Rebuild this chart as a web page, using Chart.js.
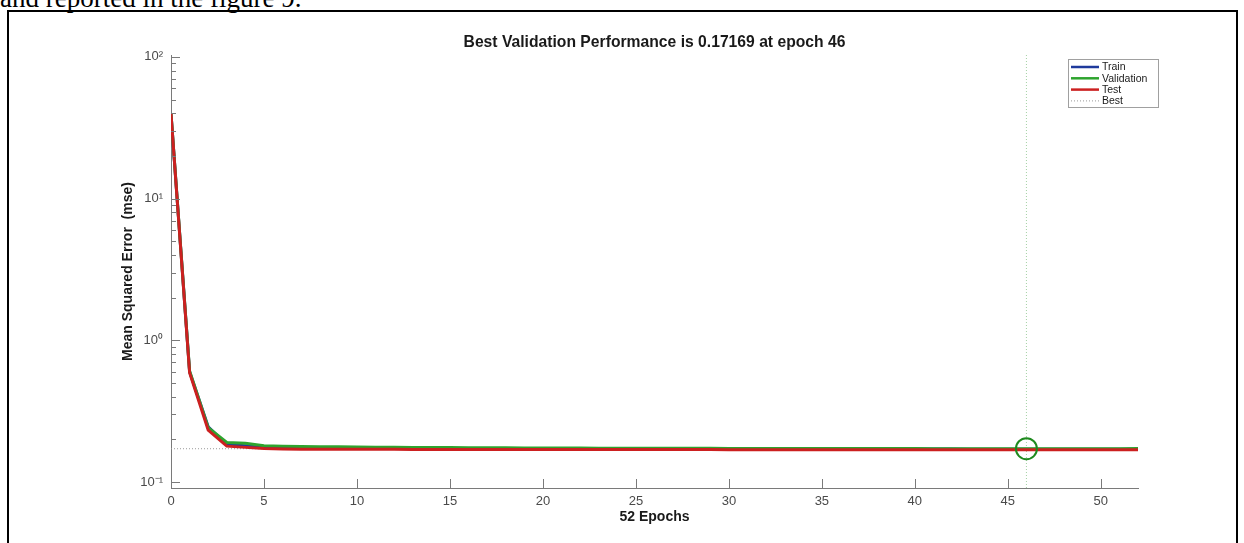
<!DOCTYPE html>
<html><head><meta charset="utf-8">
<script src="https://cdn.jsdelivr.net/npm/chart.js@4/dist/chart.umd.min.js"></script>
<style>
html,body{margin:0;padding:0;background:#fff;width:1244px;height:543px;overflow:hidden;position:relative}
#para{position:absolute;left:0;top:-17px;font-family:"Liberation Serif","Times New Roman",serif;font-size:27px;line-height:30px;color:#000;white-space:nowrap}
#frame{position:absolute;left:7px;top:10px;width:1231px;height:620px;border:2px solid #000;box-sizing:border-box}
#c{position:absolute;left:0;top:0}
</style></head><body>
<div id="para">and reported in the figure 9.</div>
<div id="frame"></div>
<canvas id="c" width="1244" height="543"></canvas>
<script>
const TITLE = 'Best Validation Performance is 0.17169 at epoch 46';
const X_TITLE = '52 Epochs';
const Y_TITLE = 'Mean Squared Error  (mse)';
const EPOCHS = [0,1,2,3,4,5,6,7,8,9,10,11,12,13,14,15,16,17,18,19,20,21,22,23,24,25,26,27,28,29,30,31,32,33,34,35,36,37,38,39,40,41,42,43,44,45,46,47,48,49,50,51,52];
const TRAIN = [39.8,0.60,0.245,0.184,0.180,0.176,0.175,0.1745,0.174,0.1737,0.1734,0.1731,0.1729,0.1727,0.1725,0.1723,0.1722,0.1720,0.1719,0.1718,0.1717,0.1716,0.1715,0.1714,0.1713,0.1712,0.1712,0.1711,0.1711,0.1710,0.1710,0.1709,0.1709,0.1708,0.1708,0.1708,0.1707,0.1707,0.1707,0.1706,0.1706,0.1706,0.1706,0.1705,0.1705,0.1705,0.1705,0.1705,0.1704,0.1704,0.1704,0.1704,0.1704];
const VALID = [40.0,0.607,0.242,0.190,0.188,0.180,0.1785,0.178,0.1775,0.177,0.1766,0.1762,0.1758,0.1755,0.1752,0.1749,0.1746,0.1744,0.1742,0.1740,0.1738,0.1736,0.1735,0.1733,0.1732,0.1731,0.1730,0.1729,0.1728,0.1727,0.1726,0.1725,0.1724,0.1724,0.1723,0.1722,0.1722,0.1721,0.1721,0.1720,0.1720,0.1719,0.1719,0.1718,0.1718,0.1717,0.17169,0.1717,0.1718,0.1718,0.1719,0.1719,0.1720];
const TEST = [39.6,0.59,0.232,0.179,0.1755,0.172,0.171,0.1705,0.1702,0.1700,0.1700,0.1699,0.1699,0.1698,0.1698,0.1697,0.1697,0.1697,0.1696,0.1696,0.1696,0.1695,0.1695,0.1695,0.1694,0.1694,0.1694,0.1693,0.1693,0.1693,0.1692,0.1692,0.1692,0.1691,0.1691,0.1691,0.1690,0.1690,0.1690,0.1690,0.1689,0.1689,0.1689,0.1689,0.1688,0.1688,0.1688,0.1687,0.1687,0.1687,0.1686,0.1686,0.1686];
const BEST_EPOCH = 46;
const BEST_PERF = 0.17169;
const X_TICKS = [0,5,10,15,20,25,30,35,40,45,50];
const Y_TICKS = [0.1,1,10,100];
const Y_TICK_LABELS = ['10\u207B\u00B9','10\u2070','10\u00B9','10\u00B2'];
const X_MIN = 0, X_MAX = 52, Y_MIN = 0.0907, Y_MAX = 103;

const C_TRAIN = '#1f3a9c', C_VALID = '#2ea42e', C_TEST = '#cc2020', C_BEST = '#9a9a9a';
const FONT = '"Liberation Sans", Arial, Helvetica, sans-serif';
const pts = (arr) => EPOCHS.map((e, i) => ({x: e, y: arr[i]}));

const innerTicks = {
  id: 'innerTicks',
  afterDatasetsDraw(chart) {
    const {ctx, chartArea: a, scales: {x, y}} = chart;
    ctx.save();
    ctx.strokeStyle = '#7a7a7a';
    ctx.lineWidth = 1;
    X_TICKS.forEach(v => {
      const px = Math.round(x.getPixelForValue(v)) + 0.5;
      ctx.beginPath(); ctx.moveTo(px, a.bottom); ctx.lineTo(px, a.bottom - 9); ctx.stroke();
    });
    Y_TICKS.forEach(d => {
      const py = Math.round(y.getPixelForValue(d)) + 0.5;
      ctx.beginPath(); ctx.moveTo(a.left, py); ctx.lineTo(a.left + 9, py); ctx.stroke();
      for (let m = 2; m <= 9; m++) {
        const v = d * m;
        if (v > Y_MAX || v < Y_MIN) continue;
        const pm = Math.round(y.getPixelForValue(v)) + 0.5;
        ctx.beginPath(); ctx.moveTo(a.left, pm); ctx.lineTo(a.left + 5, pm); ctx.stroke();
      }
    });
    ctx.restore();
  }
};

const legendBox = {
  id: 'legendBox',
  afterDraw(chart) {
    const {ctx} = chart;
    const items = [
      {label: 'Train', color: C_TRAIN, dash: [], w: 2.5},
      {label: 'Validation', color: C_VALID, dash: [], w: 2.5},
      {label: 'Test', color: C_TEST, dash: [], w: 2.5},
      {label: 'Best', color: C_BEST, dash: [1, 2], w: 1}
    ];
    const L = 1068, T = 59, R = 1158, B = 107, rowH = 11.3, y0 = 67;
    ctx.save();
    ctx.fillStyle = '#fff';
    ctx.fillRect(L, T, R - L, B - T);
    ctx.strokeStyle = '#a0a0a0';
    ctx.lineWidth = 1;
    ctx.strokeRect(L + 0.5, T + 0.5, R - L, B - T);
    ctx.font = '10.5px ' + FONT;
    ctx.textBaseline = 'middle';
    ctx.textAlign = 'left';
    items.forEach((it, i) => {
      const yy = y0 + i * rowH;
      ctx.strokeStyle = it.color;
      ctx.lineWidth = it.w;
      ctx.setLineDash(it.dash);
      ctx.beginPath(); ctx.moveTo(L + 3, yy); ctx.lineTo(L + 31, yy); ctx.stroke();
      ctx.setLineDash([]);
      ctx.fillStyle = '#1a1a1a';
      ctx.fillText(it.label, L + 34, yy + 0.5);
    });
    ctx.restore();
  }
};

new Chart(document.getElementById('c'), {
  type: 'line',
  data: {
    datasets: [
      {label: 'Test', data: pts(TEST), borderColor: C_TEST, borderWidth: 3, pointRadius: 0, order: 0, tension: 0},
      {label: 'Validation', data: pts(VALID), borderColor: C_VALID, borderWidth: 3, pointRadius: 0, order: 1, tension: 0},
      {label: 'Train', data: pts(TRAIN), borderColor: C_TRAIN, borderWidth: 3, pointRadius: 0, order: 2, tension: 0},
      {label: 'Best', data: [{x: BEST_EPOCH, y: Y_MIN}, {x: BEST_EPOCH, y: Y_MAX}], borderColor: 'rgba(90,170,90,0.55)', borderWidth: 1, borderDash: [1, 2], pointRadius: 0, order: 3},
      {label: 'Best level', data: [{x: X_MIN, y: BEST_PERF}, {x: X_MAX, y: BEST_PERF}], borderColor: C_BEST, borderWidth: 1, borderDash: [1, 2], pointRadius: 0, order: 4},
      {label: 'Best point', data: [{x: BEST_EPOCH, y: BEST_PERF}], showLine: false, pointRadius: 10.5, pointHoverRadius: 10.5, pointBorderWidth: 2, pointBorderColor: '#1e8a1e', pointBackgroundColor: 'rgba(0,0,0,0)', order: -1}
    ]
  },
  options: {
    responsive: false,
    animation: false,
    events: [],
    layout: {padding: {left: 0, right: 106, top: 0, bottom: 0}},
    plugins: {
      legend: {display: false},
      tooltip: {enabled: false},
      title: {
        display: true, text: TITLE, fullSize: false, align: 'center',
        color: '#1a1a1a', font: {family: FONT, size: 15.7, weight: 'bold', lineHeight: 1.2},
        padding: {top: 33.6, bottom: 2.6}
      }
    },
    scales: {
      x: {
        type: 'linear', min: X_MIN, max: X_MAX,
        afterBuildTicks: (s) => { s.ticks = X_TICKS.map(v => ({value: v})); },
        afterFit: (s) => { s.height = 55; },
        grid: {display: false, drawTicks: false},
        border: {display: true, color: '#7a7a7a', width: 1},
        ticks: {color: '#4a4a4a', font: {family: FONT, size: 13}, padding: 6, maxRotation: 0, autoSkip: false},
        title: {display: true, text: X_TITLE, color: '#1a1a1a', font: {family: FONT, size: 14, weight: 'bold', lineHeight: 1.2}, padding: {top: 0, bottom: 17.6}}
      },
      y: {
        type: 'logarithmic', min: Y_MIN, max: Y_MAX,
        afterBuildTicks: (s) => { s.ticks = Y_TICKS.map(v => ({value: v})); },
        afterFit: (s) => { s.width = 171; },
        grid: {display: false, drawTicks: false},
        border: {display: true, color: '#7a7a7a', width: 1},
        ticks: {color: '#4a4a4a', font: {family: FONT, size: 13}, padding: 8, autoSkip: false,
          callback: (v) => { const i = Y_TICKS.indexOf(v); return i >= 0 ? Y_TICK_LABELS[i] : ''; }},
        title: {display: true, text: Y_TITLE, color: '#1a1a1a', font: {family: FONT, size: 14, weight: 'bold', lineHeight: 1.2}, padding: {top: 119.6, bottom: 0}}
      }
    }
  },
  plugins: [innerTicks, legendBox]
});
</script>
</body></html>
